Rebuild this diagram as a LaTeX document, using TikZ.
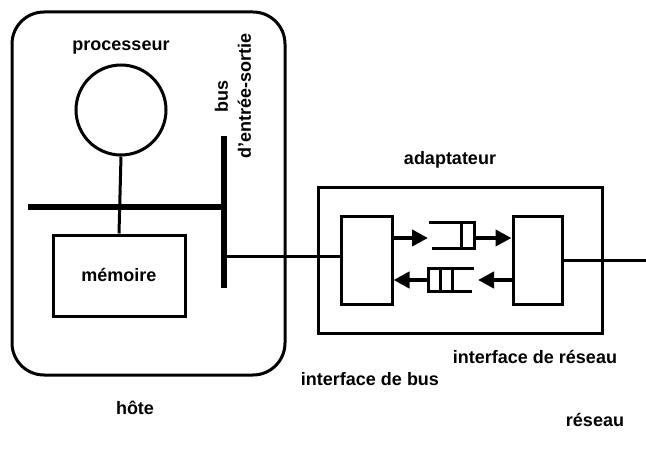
\documentclass[tikz,border=0pt]{standalone}
\usepackage{fontspec}
\setmainfont{Liberation Sans}
\usetikzlibrary{arrows.meta}
\begin{document}
\begin{tikzpicture}[x=1pt,y=-1pt,
  lbl/.style={font=\fontsize{18}{23}\selectfont\bfseries, inner sep=0pt},
  thin/.style={line width=3pt},
  busline/.style={line width=6.5pt},
  flow/.style={line width=4pt,-{Triangle[length=16pt,width=16pt]}},
  blk/.style={thin, draw, inner sep=0pt}
]
\useasboundingbox (0,0) rectangle (646,452);
% host
\draw[thin, rounded corners=32pt] (12,12) rectangle (285,375);
\node[lbl] (proclbl) at (121,48) {processeur};
\node[blk, circle, minimum size=90pt] (proc) at (121,110) {};
\node[blk, minimum width=132pt, minimum height=81pt] (mem) at (119,275.5) {};
\node[lbl] (memlbl) at (119,275) {mémoire};
\draw[thin] (proc.south) -- (mem.north);
\coordinate (busL) at (28,207);
\coordinate (busR) at (224,207);
\draw[busline] (busL) -- (busR);
\coordinate (ioT) at (224,136);
\coordinate (ioB) at (224,288);
\draw[busline] (ioT) -- (ioB);
\node[lbl, rotate=90, align=center] (iolbl) at (233,96) {bus\\d\symbol{39}entrée-sortie};
\node[lbl] (hote) at (135,408) {hôte};
% adapter
\node[blk, minimum width=284pt, minimum height=146pt] (adapt) at (460,260) {};
\node[lbl] (adlbl) at (450,160) {adaptateur};
\node[blk, minimum width=51pt, minimum height=88pt] (bif) at (366.5,260) {};
\node[blk, minimum width=49pt, minimum height=88pt] (nif) at (537.5,260) {};
\coordinate (ioC) at (224,256);
\draw[thin] (ioC) -- (ioC -| bif.west);
\coordinate (netE) at (646,260);
\draw[thin] (nif.east |- netE) -- (netE);
% top queue
\draw[thin] (429,222) -- (474,222) -- (474,248) -- (432,248);
\draw[thin] (461,222) -- (461,248);
\coordinate (q1in) at (428,238);
\coordinate (q1out) at (474,238);
\draw[flow] (bif.east |- q1in) -- (q1in);
\draw[flow] (q1out) -- (nif.west |- q1out);
% bottom queue
\draw[thin] (474,268) -- (428,268) -- (428,291) -- (472,291);
\draw[thin] (440,268) -- (440,291);
\draw[thin] (452,268) -- (452,291);
\coordinate (q2in) at (478,280);
\coordinate (q2out) at (428,280);
\draw[flow] (nif.west |- q2in) -- (q2in);
\draw[flow] (q2out) -- (bif.east |- q2out);
% labels
\node[lbl] (nilbl) at (535,357) {interface de réseau};
\node[lbl] (bilbl) at (370,379) {interface de bus};
\node[lbl] (reseau) at (595,420) {réseau};
\end{tikzpicture}
\end{document}
